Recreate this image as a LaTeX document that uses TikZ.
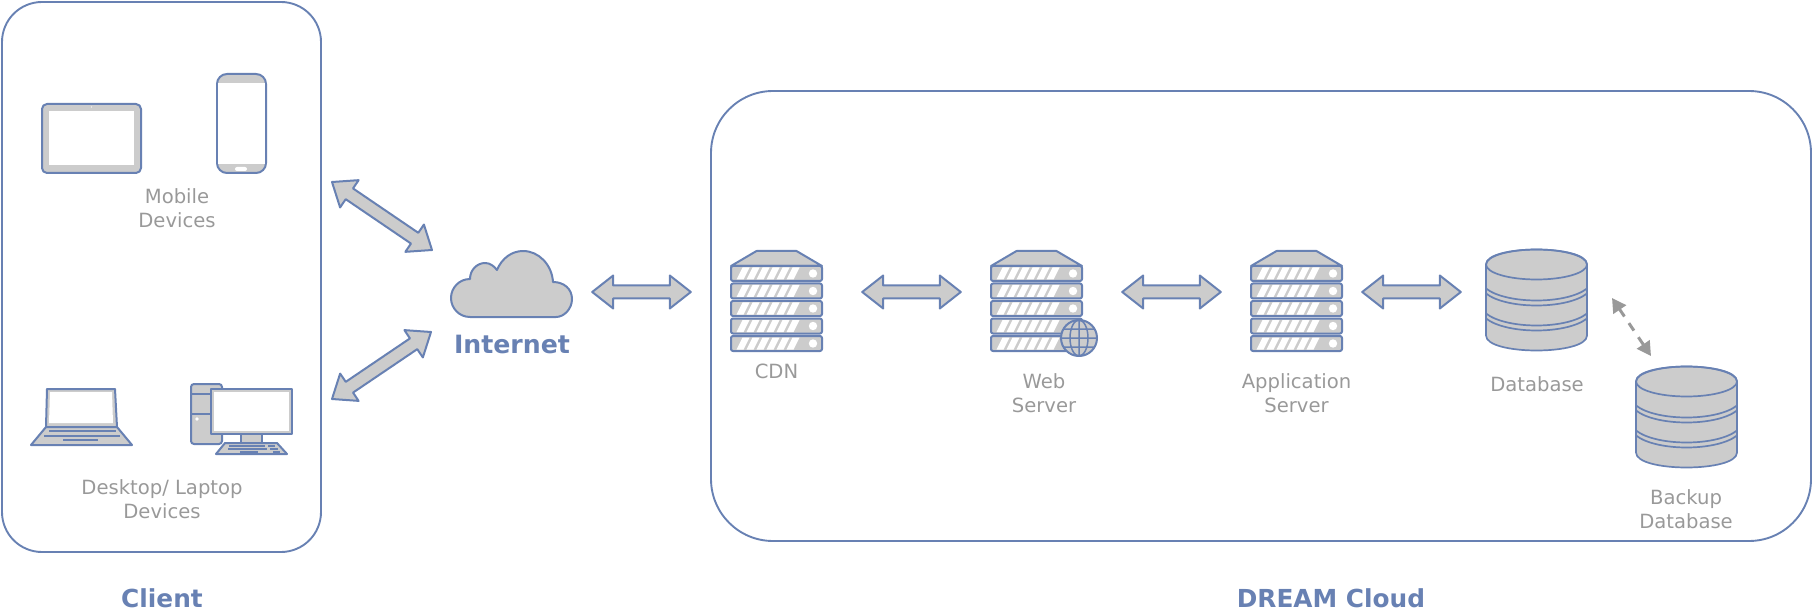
\documentclass[tikz,border=0pt]{standalone}
\usepackage{fontspec}
\setmainfont{DejaVu Sans}
\usetikzlibrary{calc}
\usetikzlibrary{arrows.meta}
\tikzset{>={Triangle[length=14pt,width=15pt]}}
\definecolor{iconblue}{HTML}{6881B3}
\definecolor{icongray}{HTML}{CCCCCC}
\definecolor{labelgray}{HTML}{999999}
\tikzset{
  regionbox/.style={draw=iconblue, line width=1.9pt, rounded corners=#1},
  iconline/.style={draw=iconblue, fill=icongray, line width=2pt, line join=round},
  iconbox/.style={inner sep=0pt, minimum width=#1, minimum height=82pt},
  graylabel/.style={text=labelgray, align=center, inner sep=0pt,
    font={\fontsize{19.6}{24}\selectfont}},
  bluelabel/.style={text=iconblue, align=center, inner sep=0pt,
    font={\fontsize{24.8}{28}\selectfont\bfseries}},
  fatlink/.style 2 args={iconline, to path={
    ($(\tikztostart)!#1!(\tikztotarget)$) coordinate (fa)
    ($(\tikztotarget)!#2!(\tikztostart)$) coordinate (fb)
    (fa) -- ($($(fa)!21pt!(fb)$)!16.5pt!90:(fb)$)
    -- ($($(fa)!21pt!(fb)$)!6.5pt!90:(fb)$)
    -- ($($(fb)!21pt!(fa)$)!6.5pt!-90:(fa)$)
    -- ($($(fb)!21pt!(fa)$)!16.5pt!-90:(fa)$)
    -- (fb)
    -- ($($(fb)!21pt!(fa)$)!16.5pt!90:(fa)$)
    -- ($($(fb)!21pt!(fa)$)!6.5pt!90:(fa)$)
    -- ($($(fa)!21pt!(fb)$)!6.5pt!-90:(fb)$)
    -- ($($(fa)!21pt!(fb)$)!16.5pt!-90:(fb)$)
    -- cycle}},
  dbsync/.style={draw=labelgray, line width=3pt, dash pattern=on 9pt off 8pt, <->},
  serverico/.pic={
    \draw[iconline] (-20,-41) -- (20,-41) -- (45.5,-26) -- (-45.5,-26) -- cycle;
    \foreach \i in {0,...,4} {
      \pgfmathsetmacro{\rowy}{-26+17.5*\i}
      \draw[iconline, rounded corners=2pt] (-45.5,\rowy) rectangle (45.5,\rowy+15);
      \fill[white] (36.5,\rowy+7.5) circle (4.2pt);
      \foreach \s in {0,...,5} {
        \fill[white] (-40+10*\s,\rowy+13.5) -- (-33+10*\s,\rowy+13.5)
          -- (-27+10*\s,\rowy+1.5) -- (-34+10*\s,\rowy+1.5) -- cycle;
      }
    }
  },
  dbico/.pic={
    \draw[iconline, line width=1.7pt] (-50.5,-35) -- (-50.5,36)
      .. controls (-50.5,56) and (50.5,56) .. (50.5,36) -- (50.5,-35)
      .. controls (50.5,-55) and (-50.5,-55) .. (-50.5,-35) -- cycle;
    \draw[iconline, fill=none, line width=1.7pt] (0,-35) ellipse [x radius=50.5, y radius=15];
    \foreach \bandy in {-11,-6,14,19} {
      \draw[iconline, fill=none, line width=1.7pt] (-50.5,\bandy)
        .. controls (-30,\bandy+16) and (30,\bandy+16) .. (50.5,\bandy);
    }
  }
}

\begin{document}
\begin{tikzpicture}[x=1pt, y=-1pt]
  \useasboundingbox (0,0) rectangle (1812,612);
  % regions
  \draw[regionbox=40pt] (2,2) rectangle (321,552);
  \draw[regionbox=62pt] (711,91) rectangle (1811,541);
  \node[bluelabel] (clientname) at (162,598) {Client};
  \node[bluelabel] (cloudname) at (1331,598) {DREAM Cloud};
  % tablet
  \draw[iconline, rounded corners=5pt] (42,104) rectangle (141,173);
  \fill[white] (49,111) rectangle (134,165);
  \fill[white] (91.5,107) circle (.7pt);
  % phone
  \draw[iconline, rounded corners=10pt] (217,74) rectangle (266,173);
  \fill[white] (218,83) rectangle (265,164);
  \fill[white, rounded corners=2pt] (235,167) rectangle (247,171);
  \node[graylabel] (mobilelabel) at (177,208.5) {Mobile\\Devices};
  % laptop
  \draw[iconline] (47,389) -- (115,389) -- (117,427) -- (46,427) -- cycle;
  \fill[white] (50,392) -- (112,392) -- (113,423) -- (49,423) -- cycle;
  \draw[iconline] (46,427) -- (117,427) -- (132,445) -- (31,445) -- cycle;
  \draw[iconline] (49,431) -- (116,431) (44,436) -- (120,436) (63,440) -- (98,440);
  % desktop
  \draw[iconline, rounded corners=3pt] (191,384) rectangle (222,444);
  \draw[iconline] (191,394) -- (222,394) (191,414) -- (222,414);
  \fill[white] (197,419) circle (1.8pt);
  \draw[iconline] (241,434) rectangle (262,443);
  \draw[iconline] (211,389) rectangle (292,434);
  \fill[white] (214,392) rectangle (289,431);
  \draw[iconline] (225,443) -- (277,443) -- (287,454) -- (216,454) -- cycle;
  \draw[iconline] (229,446) -- (265,446) (268,446) -- (275,446) (228,449) -- (267,449)
    (270,449) -- (278,449) (240,452) -- (258,452) (273,452) -- (280,452);
  \node[graylabel] (desktoplabel) at (162,499) {Desktop/ Laptop\\Devices};
  % cloud
  \node[iconbox=121pt] (internet) at (511.5,292) {};
  \draw[iconline] (470,317) .. controls (459,317) and (451,308) .. (451,298)
    .. controls (451,288) and (459,279) .. (470,279)
    .. controls (470,270) and (477,263) .. (485,263)
    .. controls (490,263) and (494,266) .. (497,270)
    .. controls (502,258) and (512,251) .. (523,251)
    .. controls (539,251) and (552,265) .. (553,282)
    .. controls (564,282) and (572,289) .. (572,299)
    .. controls (572,309) and (564,317) .. (556,317) -- cycle;
  \node[bluelabel, font={\fontsize{25.2}{28}\selectfont\bfseries}] (internetlabel) at (512,344) {Internet};
  % servers
  \node[iconbox=91pt] (cdn) at (776.5,292) {};
  \node[iconbox=91pt] (web) at (1036.5,292) {};
  \node[iconbox=91pt] (app) at (1296.5,292) {};
  \pic at (cdn) {serverico};
  \pic at (web) {serverico};
  \pic at (app) {serverico};
  \node[graylabel] (cdnlabel) at (776.5,371) {CDN};
  \node[graylabel] (weblabel) at (1044,393) {Web\\Server};
  \node[graylabel] (applabel) at (1296.5,393) {Application\\Server};
  % globe
  \begin{scope}[shift={(web)}, shift={(42.5,46)}]
    \draw[iconline] (0,0) circle (18pt);
    \draw[iconline, fill=none, line width=1.5pt] (0,0) ellipse [x radius=9, y radius=18]
      (0,-18) -- (0,18) (-18,0) -- (18,0) (-15.5,-9) -- (15.5,-9) (-15.5,9) -- (15.5,9);
  \end{scope}
  % databases
  \node[iconbox=101pt] (db) at (1536.5,292) {};
  \node[iconbox=101pt] (backup) at (1686.5,416.5) {};
  \pic at ([yshift=-7.5pt]db) {dbico};
  \pic at (backup) {dbico};
  \node[graylabel] (dblabel) at (1537,384) {Database};
  \node[graylabel] (backuplabel) at (1686,509) {Backup\\Database};
  % links
  \coordinate (mobileout) at (332,182);
  \coordinate (cloudupper) at (432,250);
  \coordinate (desktopout) at (332,399);
  \coordinate (cloudlower) at (431,332);
  \draw[fatlink={0pt}{0pt}] (mobileout) to (cloudupper);
  \draw[fatlink={0pt}{0pt}] (desktopout) to (cloudlower);
  \draw[fatlink={20pt}{40pt}] (internet.east) to (cdn.west);
  \draw[fatlink={40pt}{30pt}] (cdn.east) to (web.west);
  \draw[fatlink={40pt}{30pt}] (web.east) to (app.west);
  \draw[fatlink={20pt}{25pt}] (app.east) to (db.west);
  \coordinate (dbout) at (1612,298);
  \coordinate (backupin) at (1651,356);
  \draw[dbsync] (dbout) -- (backupin);
\end{tikzpicture}
\end{document}
